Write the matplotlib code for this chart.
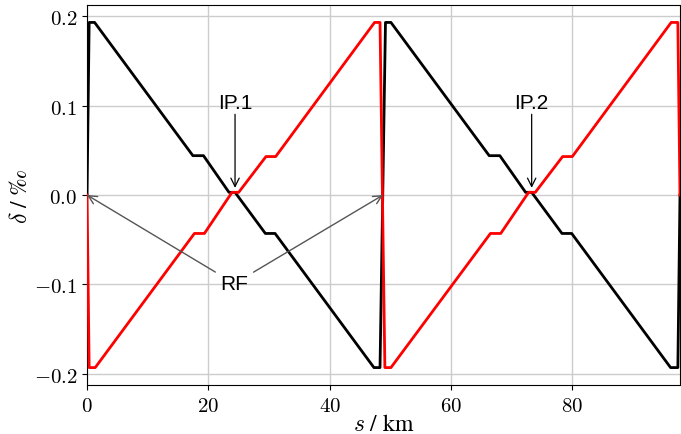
import matplotlib
matplotlib.use("Agg")
import matplotlib.pyplot as plt
from matplotlib.ticker import FormatStrFormatter

plt.rcParams['mathtext.fontset'] = 'cm'
plt.rcParams['font.size'] = 15

# breakpoints of the energy deviation along the ring (s in km, delta in permille)
s_black = [0.0, 0.35, 1.25, 17.45, 19.2, 23.4, 24.4, 29.4, 31.0, 47.3, 48.3,
           49.2, 50.1, 66.3, 68.05, 72.3, 73.3, 78.3, 79.9, 96.2, 97.4, 97.75]
d_black = [0.0, 0.193, 0.193, 0.044, 0.044, 0.003, 0.003, -0.043, -0.043, -0.193, -0.193,
           0.193, 0.193, 0.044, 0.044, 0.003, 0.003, -0.043, -0.043, -0.193, -0.193, 0.0]

s_red = [0.0, 0.35, 1.35, 17.7, 19.35, 23.9, 25.0, 29.5, 31.1, 47.4, 48.3,
         49.1, 50.1, 66.5, 68.2, 72.8, 73.9, 78.4, 80.0, 96.3, 97.4, 97.75]
d_red = [0.0, -0.193, -0.193, -0.043, -0.043, 0.003, 0.003, 0.043, 0.043, 0.193, 0.193,
         -0.193, -0.193, -0.043, -0.043, 0.003, 0.003, 0.043, 0.043, 0.193, 0.193, 0.0]

ip_pos = [24.4, 73.3]
ip_labels = ["IP.1", "IP.2"]
rf_pos = [0.0, 48.8]

fig = plt.figure(figsize=(6.81, 4.35), dpi=100)
ax = fig.add_axes([0.1278, 0.1126, 0.8707, 0.8736])

ax.plot(s_black, d_black, color='k', lw=2, zorder=3)
ax.plot(s_red, d_red, color='r', lw=2, zorder=3)

ax.set_xlim(0, 97.75)
ax.set_ylim(-0.2125, 0.2125)
ax.set_xticks([0, 20, 40, 60, 80])
ax.set_yticks([-0.2, -0.1, 0.0, 0.1, 0.2])
ax.xaxis.set_major_formatter(FormatStrFormatter('$%d$'))
ax.yaxis.set_major_formatter(FormatStrFormatter('$%.1f$'))
ax.grid(True, color='#cccccc', lw=1)
ax.set_axisbelow(True)

ax.set_xlabel(r'$s$ / km', family='STIXGeneral', fontsize=17, labelpad=-1)
ax.set_ylabel(r'$\delta$ / ‰', family='STIXGeneral', fontsize=17, labelpad=1)

for xp, lab in zip(ip_pos, ip_labels):
    ax.annotate(lab, xy=(xp, 0.008), xytext=(xp, 0.104), ha='center', va='center',
                family='Liberation Sans', fontsize=15,
                arrowprops=dict(arrowstyle='->', color='k', lw=0.9, shrinkA=0, shrinkB=0))

for i, xp in enumerate(rf_pos):
    ax.annotate("RF", xy=(xp, 0.0), xytext=(24.3, -0.099), ha='center', va='center',
                family='Liberation Sans', fontsize=15, color='k' if i == 0 else 'none',
                arrowprops=dict(arrowstyle='->', color='#555555', lw=1.0, shrinkB=0))

fig.savefig("out.png", dpi=100)
